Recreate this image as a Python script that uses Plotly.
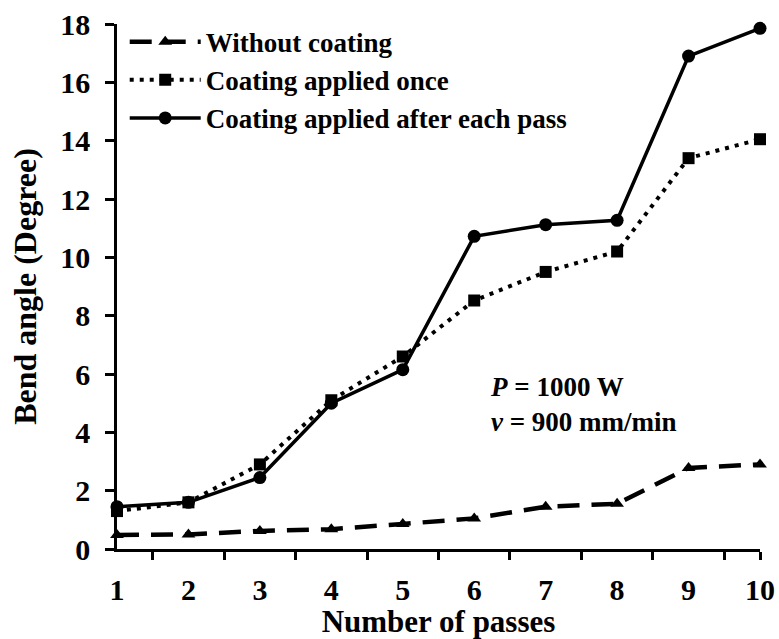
import plotly.graph_objects as go

passes = [1, 2, 3, 4, 5, 6, 7, 8, 9, 10]
without_coating = [0.48, 0.50, 0.62, 0.68, 0.86, 1.05, 1.45, 1.55, 2.78, 2.90]
coating_once = [1.30, 1.60, 2.90, 5.10, 6.60, 8.52, 9.50, 10.20, 13.40, 14.05]
coating_each = [1.45, 1.60, 2.45, 5.00, 6.15, 10.72, 11.12, 11.27, 16.90, 17.85]
y_ticks = [0, 2, 4, 6, 8, 10, 12, 14, 16, 18]

FONT = "Liberation Serif"

fig = go.Figure()
fig.add_trace(go.Scatter(
    x=passes, y=without_coating, name="Without coating", mode="lines+markers",
    line=dict(color="black", width=4.5, dash="22px,12px"),
    marker=dict(symbol="triangle-up", size=12, color="black"),
    cliponaxis=False))
fig.add_trace(go.Scatter(
    x=passes, y=coating_once, name="Coating applied once", mode="lines+markers",
    line=dict(color="black", width=4, dash="4px,6px"),
    marker=dict(symbol="square", size=12, color="black"),
    cliponaxis=False))
fig.add_trace(go.Scatter(
    x=passes, y=coating_each, name="Coating applied after each pass", mode="lines+markers",
    line=dict(color="black", width=3.5),
    marker=dict(symbol="circle", size=13, color="black"),
    cliponaxis=False))

fig.add_annotation(
    x=6.19, y=4.95, xref="x", yref="y", xanchor="left", yanchor="middle", align="left",
    text="<b><i>P</i> = 1000 W</b><br><b><i>v</i> = 900 mm/min</b>",
    showarrow=False, font=dict(family=FONT, size=27, color="black"))

fig.update_layout(
    width=779, height=639,
    margin=dict(l=117, r=19, t=24, b=90, autoexpand=False),
    paper_bgcolor="white", plot_bgcolor="white",
    font=dict(family=FONT, color="black"),
    showlegend=True,
    legend=dict(x=0.012, y=1.012, xanchor="left", yanchor="top",
                font=dict(family=FONT, size=27, color="black", weight="bold"),
                itemwidth=71, bgcolor="rgba(0,0,0,0)", tracegroupgap=0),
    xaxis=dict(
        range=[1, 10], tickmode="array", tickvals=passes,
        ticktext=["<b>%d</b>" % p for p in passes],
        ticks="", showline=True, linecolor="black", linewidth=2.5,
        showgrid=False, zeroline=False, automargin=False,
        tickfont=dict(family=FONT, size=30, color="black"),
        ticklabelstandoff=12,
        minor=dict(tickmode="array", tickvals=[1.5, 2.5, 3.5, 4.5, 5.5, 6.5, 7.5, 8.5, 9.5, 10],
                   ticks="outside", ticklen=8, tickwidth=2.5, tickcolor="black", showgrid=False),
        title=dict(text="<b>Number of passes</b>", font=dict(family=FONT, size=31, color="black"),
                   standoff=0)),
    yaxis=dict(
        range=[0, 18], tickmode="array", tickvals=y_ticks,
        ticktext=["<b>%d</b>" % v for v in y_ticks],
        ticks="outside", ticklen=9, tickwidth=2.5, tickcolor="black",
        showline=True, linecolor="black", linewidth=2.5,
        showgrid=False, zeroline=False, automargin=False,
        tickfont=dict(family=FONT, size=30, color="black"),
        ticklabelstandoff=9,
        title=dict(text="<b>Bend angle (Degree)</b>", font=dict(family=FONT, size=32, color="black"),
                   standoff=15)),
)

fig.write_html("out.html")
